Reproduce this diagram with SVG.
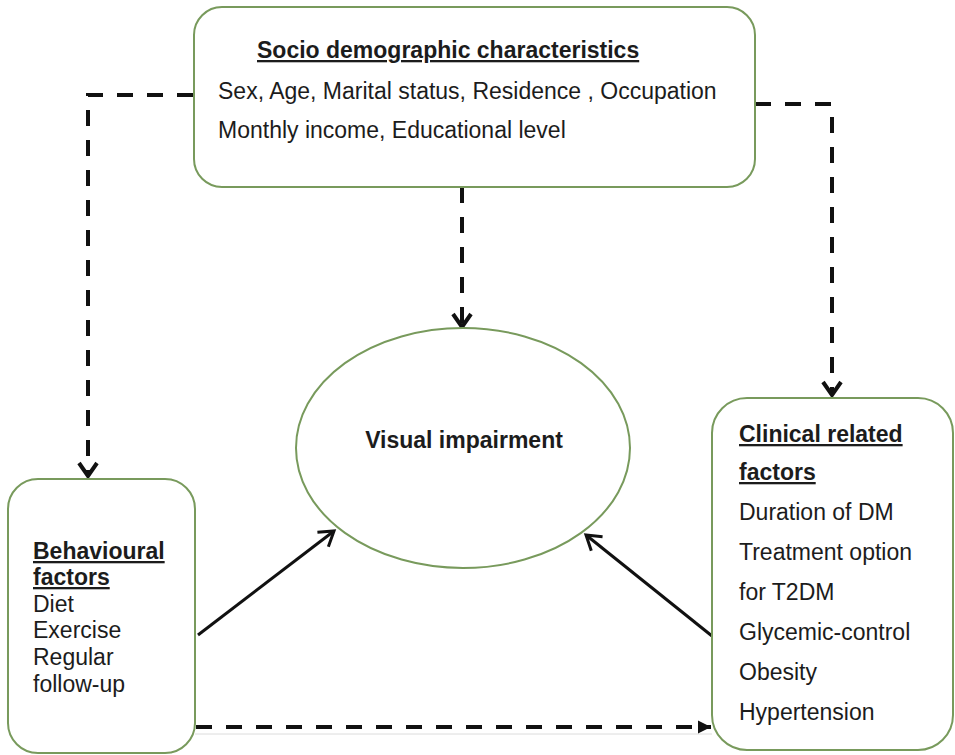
<svg xmlns="http://www.w3.org/2000/svg" width="955" height="755" viewBox="0 0 955 755">
<style>
.box{fill:#fff;stroke:#789a5c;stroke-width:2}
.t{font-family:"Liberation Sans",Arial,sans-serif;font-size:23px;fill:#1c1c1c}
.b{font-weight:bold}
.u{text-decoration:underline}
.dash{fill:none;stroke:#111;stroke-width:4;stroke-dasharray:16 14}
.solid{fill:none;stroke:#111;stroke-width:3}
.faint{stroke:#dcdcdc;stroke-width:1}
</style>
<defs>
<marker id="chev" markerUnits="userSpaceOnUse" markerWidth="30" markerHeight="30" viewBox="-15 -15 30 30" refX="0" refY="0" orient="auto" overflow="visible">
<path d="M-13,-9 L0,0 L-13,9" fill="none" stroke="#111" stroke-width="4"/>
</marker>
<marker id="chevs" markerUnits="userSpaceOnUse" markerWidth="30" markerHeight="30" viewBox="-15 -15 30 30" refX="0" refY="0" orient="auto" overflow="visible">
<path d="M-14,-9 L0,0 L-14,9" fill="none" stroke="#111" stroke-width="3"/>
</marker>
<marker id="tri" markerUnits="userSpaceOnUse" markerWidth="20" markerHeight="20" viewBox="-15 -10 20 20" refX="0" refY="0" orient="auto" overflow="visible">
<path d="M-13,-6.5 L0,0 L-13,6.5 Z" fill="#111"/>
</marker>
</defs>

<g id="connectors">
<line class="faint" x1="195" y1="734" x2="712" y2="734"/>
<path class="dash" d="M193,95 H88 V476" marker-end="url(#chev)"/>
<path class="dash" d="M755,104 H832 V395" marker-end="url(#chev)"/>
<path class="dash" d="M462,187 V327" marker-end="url(#chev)"/>
<path class="dash" d="M196,727 H711" marker-end="url(#tri)"/>
<line class="solid" x1="198" y1="635" x2="334" y2="531" marker-end="url(#chevs)"/>
<line class="solid" x1="712" y1="636" x2="586" y2="535" marker-end="url(#chevs)"/>
</g>

<g id="socio">
<rect class="box" x="194" y="7" width="561" height="180" rx="28" ry="28"/>
<text class="t b u" x="257" y="58">Socio demographic characteristics</text>
<text class="t" x="218" y="99">Sex, Age, Marital status, Residence , Occupation</text>
<text class="t" x="218" y="138">Monthly income, Educational level</text>
</g>

<g id="visual">
<ellipse class="box" cx="463" cy="448" rx="167" ry="120"/>
<text class="t b" x="464" y="448" text-anchor="middle">Visual impairment</text>
</g>

<g id="behavioural">
<rect class="box" x="8" y="479" width="187" height="274" rx="30" ry="30"/>
<text class="t b u" x="33" y="559">Behavioural</text>
<text class="t b u" x="33" y="585">factors</text>
<text class="t" x="33" y="612">Diet</text>
<text class="t" x="33" y="638">Exercise</text>
<text class="t" x="33" y="665">Regular</text>
<text class="t" x="33" y="692">follow-up</text>
</g>

<g id="clinical">
<rect class="box" x="712" y="398" width="241" height="352" rx="35" ry="35"/>
<text class="t b u" x="739" y="442">Clinical related</text>
<text class="t b u" x="739" y="480">factors</text>
<text class="t" x="739" y="520">Duration of DM</text>
<text class="t" x="739" y="560">Treatment option</text>
<text class="t" x="739" y="600">for T2DM</text>
<text class="t" x="739" y="640">Glycemic-control</text>
<text class="t" x="739" y="680">Obesity</text>
<text class="t" x="739" y="720">Hypertension</text>
</g>
</svg>
